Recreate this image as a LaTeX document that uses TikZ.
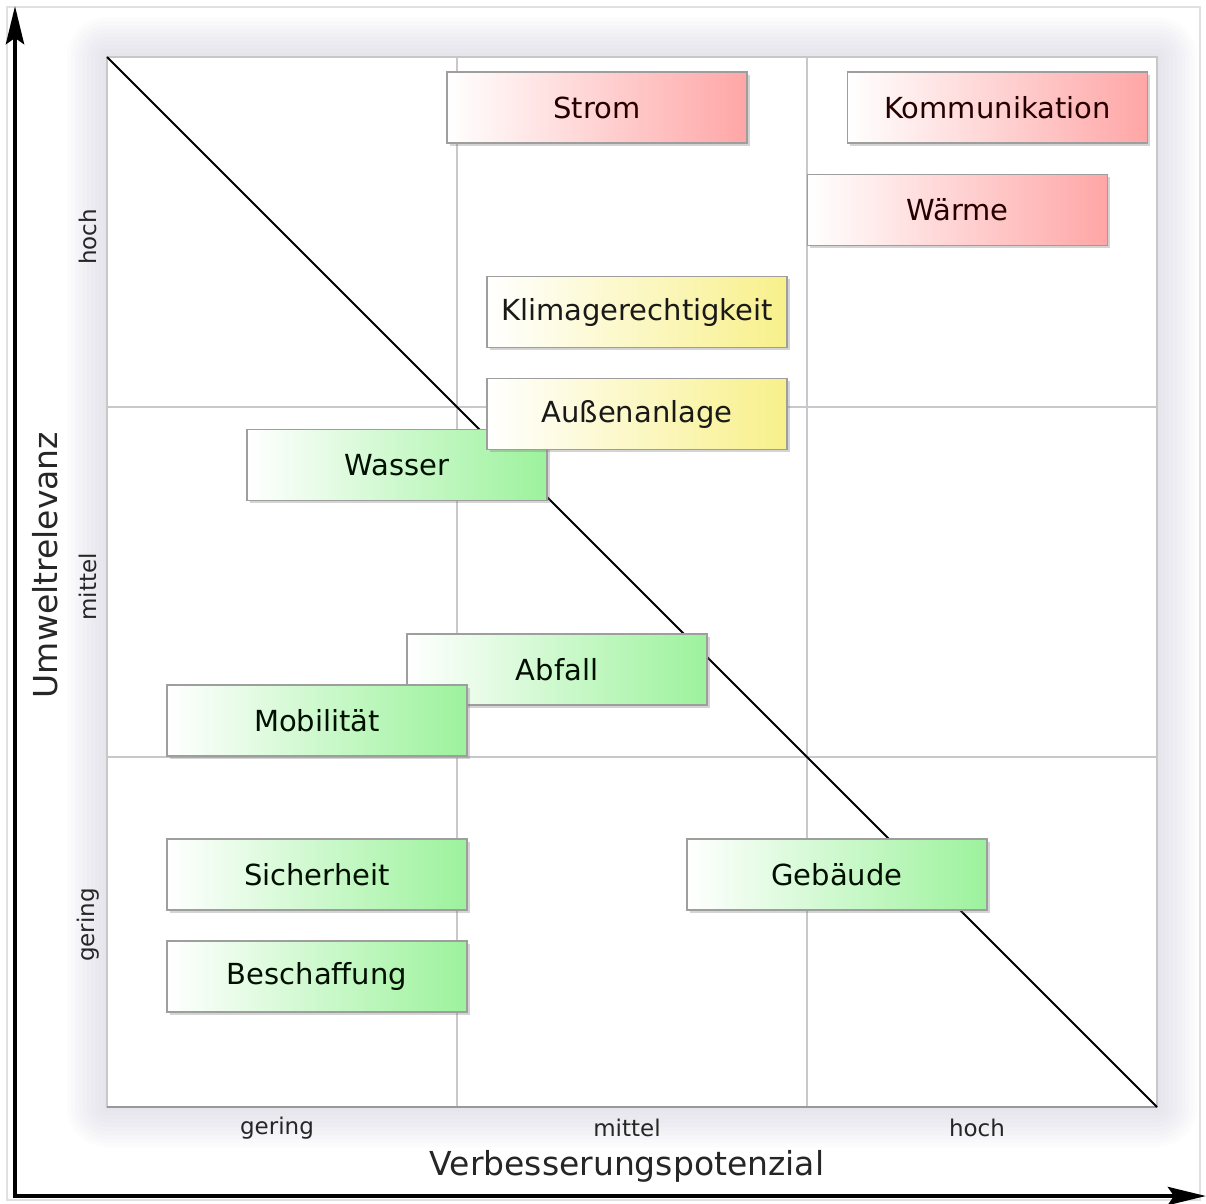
\documentclass[tikz,border=0pt]{standalone}
\usepackage{fontspec}
\setmainfont{DejaVu Sans}
\usetikzlibrary{shadows,arrows.meta}
\definecolor{redR}{HTML}{FFA6A6}
\definecolor{yelR}{HTML}{F8F08A}
\definecolor{grnR}{HTML}{9CF29C}
\definecolor{gridc}{HTML}{C8C8CC}
\definecolor{glowc}{HTML}{9A9AB8}
\tikzset{
  box/.style={draw=black!38, line width=1.2pt, minimum width=300pt, minimum height=71pt,
    inner sep=0pt, font=\fontsize{29}{34}\selectfont,
    drop shadow={shadow xshift=2.5pt, shadow yshift=-2.5pt, opacity=0.3, fill=black!55}},
  redbox/.style={box, left color=white, middle color=redR!45!white, right color=redR, text=black!85!red},
  yelbox/.style={box, left color=white, middle color=yelR!40!white, right color=yelR, text=black!90},
  grnbox/.style={box, left color=white, middle color=grnR!50!white, right color=grnR, text=black!85!green!40!black},
  gridline/.style={draw=gridc, line width=1.5pt},
  smalllab/.style={font=\fontsize{23}{27}\selectfont, text=black!85},
  biglab/.style={font=\fontsize{33}{38}\selectfont, text=black!85},
  axisarrow/.style={line width=4.5pt, -{Stealth[length=38pt,width=18pt,inset=6pt]}},
  glow/.style={fill=glowc, fill opacity=0.022, draw=none},
}
\begin{document}
\begin{tikzpicture}[x=1pt,y=-1pt]
\useasboundingbox (0,0) rectangle (1206,1203);
\fill[white] (0,0) rectangle (1206,1203);
\draw[black!12, line width=1.5pt] (7,7) rectangle (1200,1200);
% soft glow around the plot area
\foreach \d in {4,8,...,40} {
  \path[glow, rounded corners=\d pt] (107-\d,57-\d) rectangle (1157+\d,1107+\d);
}
\fill[white] (107,57) rectangle (1157,1107);
\coordinate (tl) at (107,57);
\coordinate (br) at (1157,1107);
% grid
\draw[gridline] (457,57) -- (457,1107);
\draw[gridline] (807,57) -- (807,1107);
\draw[gridline] (107,407) -- (1157,407);
\draw[gridline] (107,757) -- (1157,757);
\draw[draw=black!22, line width=1.5pt] (107,57) rectangle (1157,1107);
\draw[draw=black!40, line width=2pt] (107,1107) -- (1157,1107);
% diagonal
\draw[black, line width=2pt] (tl) -- (br);
% boxes
\node[redbox] (strom) at (597,107.5) {Strom};
\node[redbox] (komm) at (997.5,107.5) {Kommunikation};
\node[redbox] (waerme) at (957.5,210) {Wärme};
\node[yelbox] (klima) at (637,312) {Klimagerechtigkeit};
\node[grnbox] (wasser) at (397,465) {Wasser};
\node[yelbox] (aussen) at (637,414) {Außenanlage};
\node[grnbox] (abfall) at (557,669.5) {Abfall};
\node[grnbox] (mobil) at (317,720.5) {Mobilität};
\node[grnbox] (sicher) at (317,874.5) {Sicherheit};
\node[grnbox] (gebaeude) at (837,874.5) {Gebäude};
\node[grnbox] (beschaff) at (317,976.5) {Beschaffung};
% axis labels
\node[smalllab, rotate=90] (yhoch) at (88,237) {hoch};
\node[smalllab, rotate=90] (ymittel) at (88,587) {mittel};
\node[smalllab, rotate=90] (ygering) at (88,925) {gering};
\node[biglab, rotate=90] (ytitle) at (45,565) {Umweltrelevanz};
\node[smalllab] (xgering) at (277,1128) {gering};
\node[smalllab] (xmittel) at (627,1128) {mittel};
\node[smalllab] (xhoch) at (977,1128) {hoch};
\node[biglab] (xtitle) at (627,1166) {Verbesserungspotenzial};
% axes
\coordinate (origin) at (15,1196);
\coordinate (ytip) at (15,6);
\coordinate (xtip) at (1206,1196);
\draw[axisarrow] ([yshift=2pt]origin) -- (ytip);
\draw[axisarrow] ([xshift=-2pt]origin) -- (xtip);
\end{tikzpicture}
\end{document}
